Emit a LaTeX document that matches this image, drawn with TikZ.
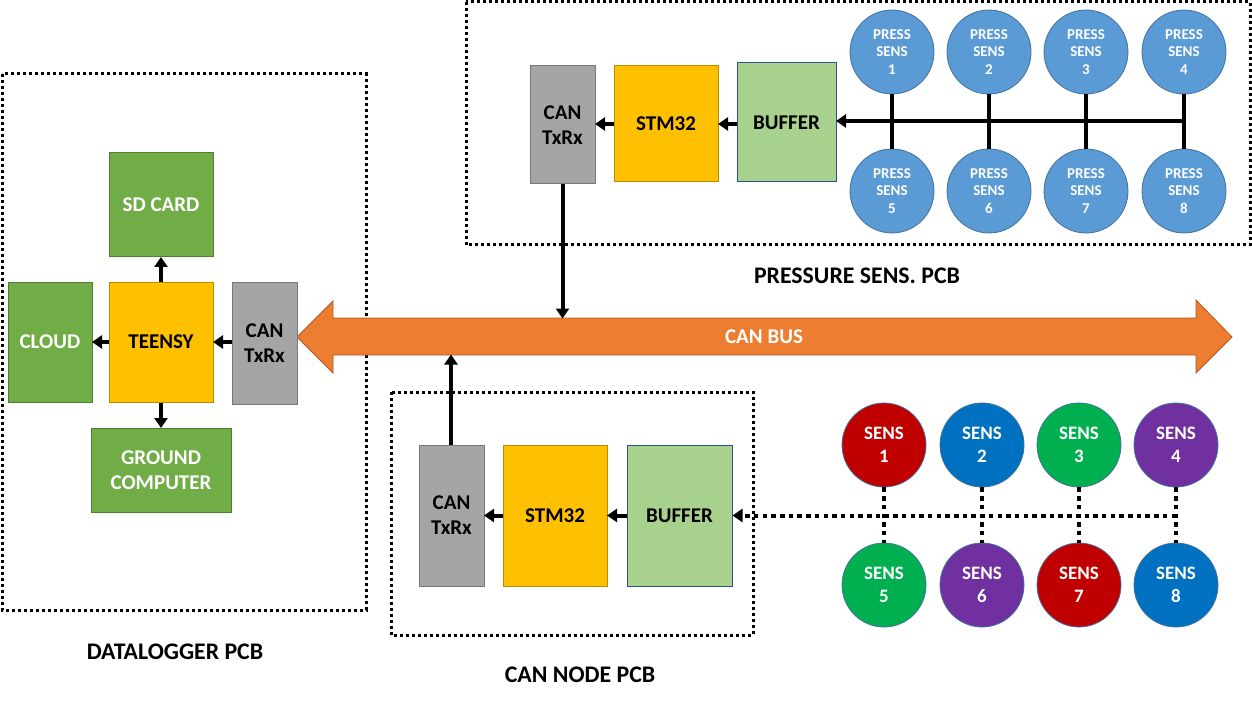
\documentclass[tikz,border=0pt]{standalone}
\usepackage{fontspec}
\setmainfont{Carlito}
\usetikzlibrary{arrows.meta}
\definecolor{dgreen}{HTML}{70AD47}
\definecolor{dgreenB}{HTML}{507E32}
\definecolor{yel}{HTML}{FFC000}
\definecolor{yelB}{HTML}{BC8C00}
\definecolor{gry}{HTML}{A5A5A5}
\definecolor{gryB}{HTML}{787878}
\definecolor{lgreen}{HTML}{A9D18E}
\definecolor{lgreenB}{HTML}{2F528F}
\definecolor{orng}{HTML}{ED7D31}
\definecolor{orngB}{HTML}{AE5A21}
\definecolor{pblue}{HTML}{5B9BD5}
\definecolor{pblueB}{HTML}{41719C}
\definecolor{sred}{HTML}{C00000}
\definecolor{sblue}{HTML}{0070C0}
\definecolor{sgreen}{HTML}{00B050}
\definecolor{spurple}{HTML}{7030A0}
\begin{document}
\begin{tikzpicture}[x=1pt,y=-1pt,
  box/.style={draw, line width=1pt, inner sep=0pt, align=center,
    font=\bfseries\fontsize{21}{25}\selectfont},
  greenbox/.style={box, fill=dgreen, draw=dgreenB, text=white},
  yelbox/.style={box, fill=yel, draw=yelB},
  canbox/.style={box, fill=gry, draw=gryB, minimum width=65},
  bufbox/.style={box, fill=lgreen, draw=lgreenB},
  psens/.style={circle, draw=pblueB, line width=0.8pt, fill=pblue, text=white, minimum size=84, inner sep=0pt, align=center,
    font=\bfseries\fontsize{15}{17.5}\selectfont},
  sens/.style={circle, draw=pblueB, line width=0.8pt, text=white, minimum size=84, inner sep=0pt, align=center,
    font=\bfseries\fontsize{19}{23}\selectfont},
  pcb/.style={draw, line width=3pt, dash pattern=on 3pt off 3pt},
  conn/.style={line width=4pt},
  arr/.style={line width=4pt, -{Triangle[length=10pt,width=13pt]}, shorten >=-0.5pt},
  dconn/.style={line width=4pt, dash pattern=on 4.5pt off 4.2pt},
  darr/.style={dconn, -{Triangle[length=10pt,width=13pt]}},
  lbl/.style={font=\bfseries\fontsize{23.8}{28}\selectfont}
]
\useasboundingbox (0,0) rectangle (1252,703);

% PCB outlines
\draw[pcb] (2,74) rectangle (366,610);
\draw[pcb] (466,2) rectangle (1250,245);
\draw[pcb] (391,392) rectangle (753,635);

% CAN bus
\coordinate (bustop) at (563,318);
\coordinate (busbot) at (451,355);
\draw[fill=orng, draw=orngB, line width=0.8pt]
  (297,337) -- (333,301) -- (333,318) -- (1196,318) -- (1196,300) -- (1232,337)
  -- (1196,373) -- (1196,355) -- (333,355) -- (333,373) -- cycle;
\node[text=white, font=\bfseries\fontsize{21}{25}\selectfont] (busl) at (764,337) {CAN BUS};

% Datalogger
\node[greenbox, minimum width=104, minimum height=104] (sd) at (161,205) {SD CARD};
\node[greenbox, minimum width=84, minimum height=120] (cloud) at (50,342) {CLOUD};
\node[yelbox, minimum width=104, minimum height=120] (teensy) at (161,342) {TEENSY};
\node[canbox, minimum height=122] (can0) at (264.5,343) {CAN\\TxRx};
\node[greenbox, minimum width=140, minimum height=84] (ground) at (161,470) {GROUND\\COMPUTER};
\draw[arr] (teensy.north) -- (sd.south);
\draw[arr] (teensy.south) -- (ground.north);
\draw[arr] (teensy.west) -- (cloud.east);
\draw[arr] (can0.west|-teensy.east) -- (teensy.east);
\node[lbl] (dll) at (175,652) {DATALOGGER PCB};

% Pressure PCB
\node[canbox, minimum height=118] (can1) at (562.5,125) {CAN\\TxRx};
\node[yelbox, minimum width=104, minimum height=116] (stm1) at (666,124) {STM32};
\node[bufbox, minimum width=99, minimum height=119] (buf1) at (786.5,122.5) {BUFFER};
\foreach \i/\x in {1/892,2/989,3/1086,4/1184}{
  \node[psens] (ps\i) at (\x,52) {PRESS\\SENS\\\i};
}
\foreach \i/\x in {5/892,6/989,7/1086,8/1184}{
  \node[psens] (ps\i) at (\x,191) {PRESS\\SENS\\\i};
}
\draw[conn] (ps1.south) -- (ps5.north);
\draw[conn] (ps2.south) -- (ps6.north);
\draw[conn] (ps3.south) -- (ps7.north);
\draw[conn] (ps4.south) -- (ps8.north);
\draw[arr] (ps4.south|-0,121) -- (buf1.east|-0,121);
\draw[arr] (buf1.west|-stm1.east) -- (stm1.east);
\draw[arr] (stm1.west) -- (stm1.west-|can1.east);
\draw[arr] (can1.south) -- (can1.south|-bustop);
\node[lbl] (psl) at (857,276) {PRESSURE SENS. PCB};

% CAN node PCB
\node[canbox, minimum height=141] (can2) at (451.5,515.5) {CAN\\TxRx};
\node[yelbox, minimum width=104, minimum height=141] (stm2) at (555,515.5) {STM32};
\node[bufbox, minimum width=105, minimum height=141] (buf2) at (679.5,515.5) {BUFFER};
\draw[arr] (buf2.west) -- (stm2.east);
\draw[arr] (stm2.west) -- (can2.east);
\draw[arr] (can2.north-|busbot) -- (busbot);
\node[lbl] (cnl) at (580,675) {CAN NODE PCB};

% Sensors
\node[sens, fill=sred] (s1) at (884,445) {SENS\\1};
\node[sens, fill=sblue] (s2) at (982,445) {SENS\\2};
\node[sens, fill=sgreen] (s3) at (1079,445) {SENS\\3};
\node[sens, fill=spurple] (s4) at (1176,445) {SENS\\4};
\node[sens, fill=sgreen] (s5) at (884,585) {SENS\\5};
\node[sens, fill=spurple] (s6) at (982,585) {SENS\\6};
\node[sens, fill=sred] (s7) at (1079,585) {SENS\\7};
\node[sens, fill=sblue] (s8) at (1176,585) {SENS\\8};
\draw[dconn] (s1.south) -- (s5.north);
\draw[dconn] (s2.south) -- (s6.north);
\draw[dconn] (s3.south) -- (s7.north);
\draw[dconn] (s4.south) -- (s8.north);
\draw[darr] (s4.south|-buf2.east) -- (buf2.east);
\end{tikzpicture}
\end{document}
